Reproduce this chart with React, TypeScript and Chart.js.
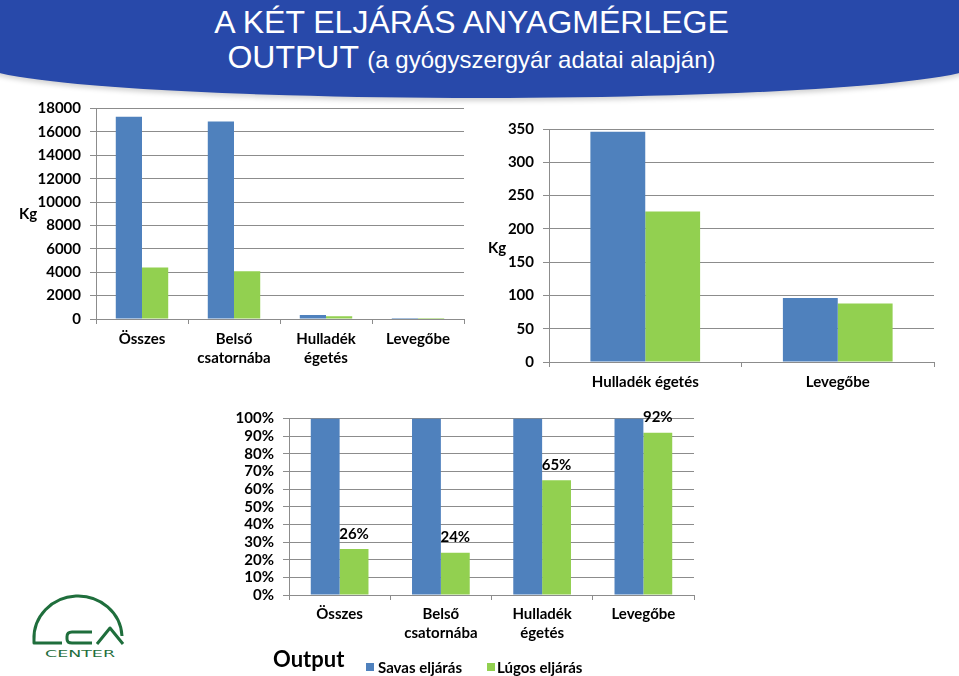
import React, { useEffect, useRef } from 'react';
import { Chart, registerables } from 'chart.js';
Chart.register(...registerables);

// ---------- data ----------
const SERIES_A = 'Savas eljárás';
const SERIES_B = 'Lúgos eljárás';

const categoriesAll: (string | string[])[] = ['Összes', ['Belső', 'csatornába'], ['Hulladék', 'égetés'], 'Levegőbe'];
const savasKg = [17300, 16880, 346, 96];
const lugosKg = [4400, 4090, 226, 88];

const categoriesSmall = ['Hulladék égetés', 'Levegőbe'];
const savasKgSmall = [346, 96];
const lugosKgSmall = [226, 88];

const savasPct = [100, 100, 100, 100];
const lugosPct = [26, 24, 65, 92];

const kgMax1 = 18000;
const kgStep1 = 2000;
const kgMax2 = 350;
const kgStep2 = 50;
const pctMax = 100;
const pctStep = 10;

// ---------- style ----------
const BLUE = '#4F81BD';
const GREEN = '#92D050';
const GRID = '#8c8c8c';
const FONT = 'Lato, "Open Sans", sans-serif';
const TICK_FONT = { family: FONT, weight: 'bold' as const, size: 15, lineHeight: 1.27 };

type Opt = {
  yWidth: number; xHeight: number; padTop: number; padRight: number;
  max: number; step: number; fmt: (v: any) => string; xPad: number;
};

function makeOptions(p: Opt): any {
  return {
    responsive: false,
    animation: false,
    layout: { padding: { top: p.padTop, right: p.padRight, left: 0, bottom: 0 } },
    plugins: { legend: { display: false }, tooltip: { enabled: false } },
    scales: {
      x: {
        grid: { display: true, drawOnChartArea: false, drawTicks: true, tickLength: 5, color: GRID, offset: true },
        border: { display: true, color: GRID, width: 1 },
        ticks: { color: '#000', font: TICK_FONT, padding: p.xPad, maxRotation: 0, autoSkip: false },
        afterFit: (s: any) => { s.height = p.xHeight; },
      },
      y: {
        min: 0,
        max: p.max,
        grid: { color: GRID, tickLength: 6, drawTicks: true },
        border: { display: true, color: GRID, width: 1 },
        ticks: { stepSize: p.step, color: '#000', font: TICK_FONT, padding: 9, callback: p.fmt, autoSkip: false },
        afterFit: (s: any) => { s.width = p.yWidth; },
      },
    },
  };
}

function datasets(a: number[], b: number[]) {
  return [
    { label: SERIES_A, data: a, backgroundColor: BLUE, categoryPercentage: 0.57, barPercentage: 1 },
    { label: SERIES_B, data: b, backgroundColor: GREEN, categoryPercentage: 0.57, barPercentage: 1 },
  ];
}

const pctLabelPlugin = {
  id: 'pctLabels',
  afterDatasetsDraw(chart: any) {
    const ctx = chart.ctx;
    const meta = chart.getDatasetMeta(1);
    ctx.save();
    ctx.font = `bold 15px ${FONT}`;
    ctx.fillStyle = '#000';
    ctx.textAlign = 'center';
    ctx.textBaseline = 'middle';
    meta.data.forEach((bar: any, i: number) => {
      ctx.fillText(`${lugosPct[i]}%`, bar.x, bar.y - 15);
    });
    ctx.restore();
  },
};

const config1 = () => ({
  type: 'bar',
  data: { labels: categoriesAll, datasets: datasets(savasKg, lugosKg) },
  options: makeOptions({ yWidth: 96, xHeight: 61, padTop: 16, padRight: 16, max: kgMax1, step: kgStep1, fmt: (v) => String(v), xPad: 6 }),
});

const config2 = () => ({
  type: 'bar',
  data: { labels: categoriesSmall, datasets: datasets(savasKgSmall, lugosKgSmall) },
  options: makeOptions({ yWidth: 69, xHeight: 38, padTop: 19, padRight: 25, max: kgMax2, step: kgStep2, fmt: (v) => String(v), xPad: 6 }),
});

const config3 = () => ({
  type: 'bar',
  data: { labels: categoriesAll, datasets: datasets(savasPct, lugosPct) },
  options: makeOptions({ yWidth: 59, xHeight: 55, padTop: 17, padRight: 20, max: pctMax, step: pctStep, fmt: (v) => `${v}%`, xPad: 5 }),
  plugins: [pctLabelPlugin],
});

function ChartCanvas({ x, y, w, h, make }: { x: number; y: number; w: number; h: number; make: () => any }) {
  const ref = useRef<HTMLCanvasElement>(null);
  useEffect(() => {
    const chart = new Chart(ref.current as HTMLCanvasElement, make());
    return () => chart.destroy();
  }, []);
  return (
    <canvas ref={ref} width={w} height={h}
      style={{ position: 'absolute', left: x, top: y, width: w, height: h }} />
  );
}

function Txt({ x, y, size, children, style }: any) {
  return (
    <div style={{
      position: 'absolute', left: x, top: y, transform: 'translateY(-50%)',
      fontFamily: FONT, fontWeight: 700, fontSize: size, lineHeight: 1, whiteSpace: 'nowrap', color: '#000', ...style,
    }}>{children}</div>
  );
}

function Logo() {
  const g = '#1f6e3c';
  return (
    <svg width={140} height={106} style={{ position: 'absolute', left: 0, top: 570 }}>
      <g fill="none" stroke={g} strokeWidth={3} strokeLinejoin="round">
        <path d="M 62 73 L 34 73 L 34 70 A 44 42 0 0 1 122 66" />
        <path d="M 92 62 L 72 62 Q 67 62 67 66.5 L 67 69 Q 67 73 72 73 L 92 73" />
        <path d="M 97 74 L 110 58 L 123 74" />
      </g>
      <text x={45} y={87} fill={g} fontFamily="DejaVu Sans" fontSize={9}
        textLength={70} lengthAdjust="spacingAndGlyphs">CENTER</text>
    </svg>
  );
}

export default function App() {
  return (
    <div style={{ position: 'fixed', left: 0, top: 0, width: 959, height: 676, background: '#fff', overflow: 'hidden' }}>
      <div style={{
        position: 'absolute', left: -21, top: -200, width: 1001, height: 298, background: '#2849aa',
        borderRadius: '0 0 500px 500px / 0 0 35px 35px', boxShadow: '0 3px 5px rgba(0,0,0,0.18)',
      }} />
      <div style={{
        position: 'absolute', left: 0, top: 6, width: 943, textAlign: 'center', color: '#fff',
        fontFamily: '"Liberation Sans", Arial, sans-serif', fontSize: 32, lineHeight: '32px', whiteSpace: 'nowrap',
      }}>A KÉT ELJÁRÁS ANYAGMÉRLEGE</div>
      <div style={{
        position: 'absolute', left: 0, top: 41, width: 943, textAlign: 'center', color: '#fff',
        fontFamily: '"Liberation Sans", Arial, sans-serif', fontSize: 32, lineHeight: '32px', whiteSpace: 'nowrap',
      }}>OUTPUT <span style={{ fontSize: 24, lineHeight: '32px' }}>(a gyógyszergyár adatai alapján)</span></div>

      <ChartCanvas x={0} y={90} w={480} h={290} make={config1} />
      <ChartCanvas x={480} y={110} w={479} h={290} make={config2} />
      <ChartCanvas x={230} y={400} w={484} h={250} make={config3} />

      <Txt x={19} y={213} size={15}>Kg</Txt>
      <Txt x={488} y={247} size={15}>Kg</Txt>

      <Txt x={273} y={659} size={22}>Output</Txt>
      <div style={{ position: 'absolute', left: 366, top: 663, width: 8, height: 8, background: BLUE }} />
      <Txt x={378} y={667} size={15}>{SERIES_A}</Txt>
      <div style={{ position: 'absolute', left: 487, top: 663, width: 8, height: 8, background: GREEN }} />
      <Txt x={497} y={667} size={15}>{SERIES_B}</Txt>

      <Logo />
    </div>
  );
}
